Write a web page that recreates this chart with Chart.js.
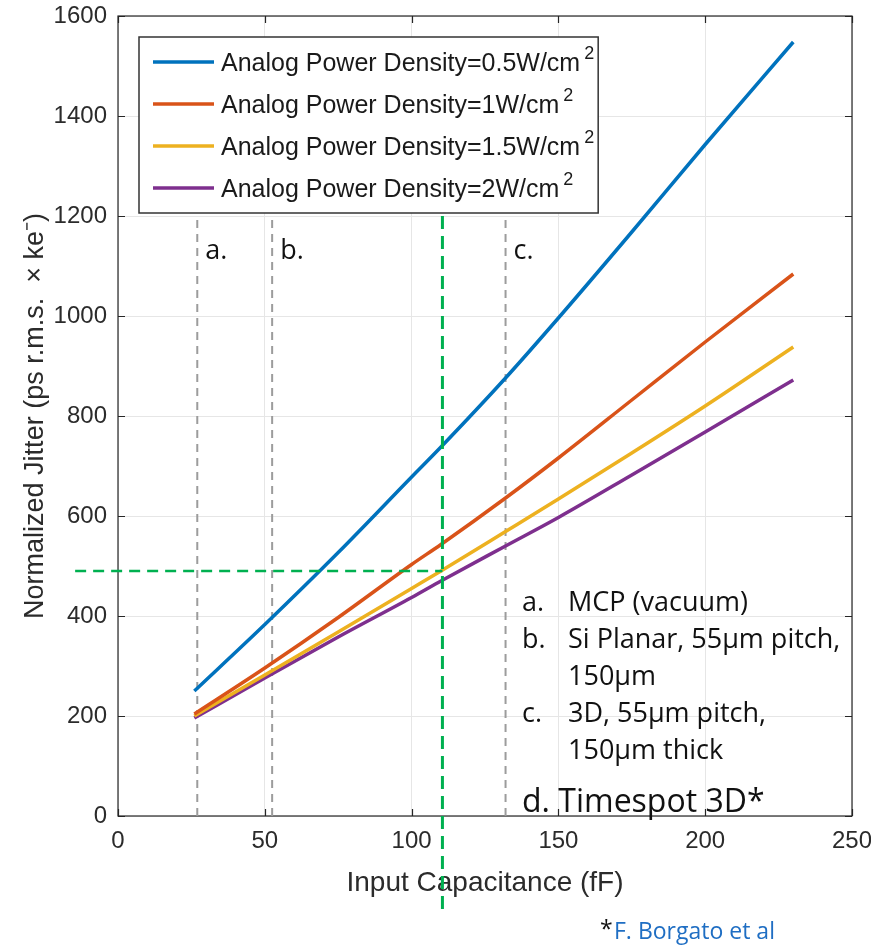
<!DOCTYPE html>
<html>
<head>
<meta charset="utf-8">
<script src="https://cdn.jsdelivr.net/npm/chart.js@4.4.0/dist/chart.umd.min.js"></script>
<style>
  html, body { margin: 0; padding: 0; background: #fff; }
  #wrap { position: relative; width: 871px; height: 946px; }
</style>
</head>
<body>
<div id="wrap"><canvas id="jitterChart"></canvas></div>
<script>
// values
const capacitance = [26, 50, 75, 100, 110, 132, 150, 175, 200, 230];
const jitter05 = [250, 383, 527, 678, 738, 876, 996, 1168, 1343, 1548];
const jitter1 = [204, 296, 397, 503, 543, 636, 716, 832, 948, 1084];
const jitter15 = [200, 282, 368, 455, 490, 569, 634, 726, 820, 938];
const jitter2 = [196, 276, 358, 437, 470, 540, 597, 682, 768, 872];
const densities = ["0.5", "1", "1.5", "2"];
const lineColors = ["#0072BD", "#D95319", "#EDB120", "#7E2F8E"];

const markerX = [27, 52.5, 132];
const markerText = ["a.", "b.", "c."];
const markerTop = 1195;
const timespotX = 110.5;
const timespotY = 490;

const xTicks = [0, 50, 100, 150, 200, 250];
const yTicks = [0, 200, 400, 600, 800, 1000, 1200, 1400, 1600];

const notes = [
  ["a.", "MCP (vacuum)"],
  ["b.", "Si Planar, 55\u03bcm pitch,"],
  ["", "150\u03bcm"],
  ["c.", "3D, 55\u03bcm pitch,"],
  ["", "150\u03bcm thick"]
];

const series = [jitter05, jitter1, jitter15, jitter2];
const datasets = series.map((vals, i) => ({
  label: "Analog Power Density=" + densities[i] + "W/cm\u00b2",
  data: capacitance.map((c, j) => ({ x: c, y: vals[j] })),
  borderColor: lineColors[i],
  borderWidth: 3.5,
  pointRadius: 0,
  cubicInterpolationMode: "monotone",
  order: 1
}));

// dashed gray markers a / b / c
markerX.forEach(x => {
  datasets.push({
    label: "marker",
    data: [{ x: x, y: 0 }, { x: x, y: markerTop }],
    borderColor: "#9c9c9c",
    borderWidth: 2,
    borderDash: [8, 6],
    pointRadius: 0,
    order: 3
  });
});

// green timespot cross, reaches past the axes
datasets.push({
  label: "timespot-v",
  data: [{ x: timespotX, y: 1200 }, { x: timespotX, y: -198 }],
  borderColor: "#00B050",
  borderWidth: 3,
  borderDash: [13, 7],
  pointRadius: 0,
  clip: false,
  order: 0
});
datasets.push({
  label: "timespot-h",
  data: [{ x: -14.6, y: timespotY }, { x: timespotX, y: timespotY }],
  borderColor: "#00B050",
  borderWidth: 2.5,
  borderDash: [11, 7],
  pointRadius: 0,
  clip: false,
  order: 0
});

const textFont = "'Open Sans', 'Noto Sans', sans-serif";
const axisFont = "'Liberation Sans', Arial, sans-serif";

const frame = {
  id: "frame",
  beforeDatasetsDraw(chart) {
    const { ctx, chartArea: a, scales } = chart;
    ctx.save();
    ctx.strokeStyle = "#262626";
    ctx.lineWidth = 1.2;
    const tl = 7;
    ctx.beginPath();
    xTicks.forEach(v => {
      const px = Math.round(scales.x.getPixelForValue(v)) + 0.5;
      ctx.moveTo(px, a.bottom); ctx.lineTo(px, a.bottom - tl);
      ctx.moveTo(px, a.top); ctx.lineTo(px, a.top + tl);
    });
    yTicks.forEach(v => {
      const py = Math.round(scales.y.getPixelForValue(v)) + 0.5;
      ctx.moveTo(a.left, py); ctx.lineTo(a.left + tl, py);
      ctx.moveTo(a.right, py); ctx.lineTo(a.right - tl, py);
    });
    ctx.stroke();
    ctx.strokeRect(a.left, a.top, a.right - a.left, a.bottom - a.top);
    ctx.restore();
  }
};

const notesPlugin = {
  id: "notes",
  afterDraw(chart) {
    const { ctx, chartArea: a, scales } = chart;
    ctx.save();

    // legend box
    const lx = a.left + 21, ly = a.top + 21;
    ctx.font = "25px " + axisFont;
    let maxW = 0;
    densities.forEach(d => {
      maxW = Math.max(maxW, ctx.measureText("Analog Power Density=" + d + "W/cm").width);
    });
    const boxW = 82 + maxW + 18, boxH = 176;
    ctx.fillStyle = "#fff";
    ctx.fillRect(lx, ly, boxW, boxH);
    ctx.strokeStyle = "#333";
    ctx.lineWidth = 1.5;
    ctx.strokeRect(lx, ly, boxW, boxH);
    densities.forEach((d, i) => {
      const cy = ly + 25 + i * 42;
      ctx.strokeStyle = lineColors[i];
      ctx.lineWidth = 3.5;
      ctx.beginPath();
      ctx.moveTo(lx + 14, cy);
      ctx.lineTo(lx + 75, cy);
      ctx.stroke();
      const t = "Analog Power Density=" + d + "W/cm";
      ctx.font = "25px " + axisFont;
      ctx.fillStyle = "#1a1a1a";
      ctx.textBaseline = "middle";
      ctx.textAlign = "left";
      ctx.fillText(t, lx + 82, cy + 2);
      const w = ctx.measureText(t).width;
      ctx.font = "18px " + axisFont;
      ctx.fillText("2", lx + 82 + w + 4, cy - 8);
    });

    // a. b. c. labels
    ctx.fillStyle = "#111";
    ctx.font = "27px " + textFont;
    ctx.textBaseline = "middle";
    markerX.forEach((x, i) => {
      ctx.fillText(markerText[i], scales.x.getPixelForValue(x) + 8, scales.y.getPixelForValue(1130));
    });

    // notes
    const nx = a.left + 404;
    notes.forEach((n, i) => {
      const cy = a.top + 587 + i * 37.2;
      ctx.font = "27px " + textFont;
      if (n[0]) ctx.fillText(n[0], nx, cy);
      ctx.fillText(n[1], nx + 46, cy);
    });
    ctx.font = "32px " + textFont;
    ctx.fillText("d. Timespot 3D*", nx, a.top + 787);

    // citation
    ctx.font = "23px " + textFont;
    ctx.fillStyle = "#111";
    ctx.fillText("*", 600, 930);
    ctx.fillStyle = "#1F6EC3";
    ctx.fillText("F. Borgato et al", 614, 932);
    ctx.restore();
  }
};

new Chart(document.getElementById("jitterChart"), {
  type: "line",
  data: { datasets: datasets },
  options: {
    responsive: true,
    maintainAspectRatio: false,
    animation: false,
    layout: { padding: { left: 0, top: 16, right: 19, bottom: 0 } },
    plugins: { legend: { display: false }, tooltip: { enabled: false } },
    scales: {
      x: {
        type: "linear",
        min: 0,
        max: 250,
        afterBuildTicks: s => { s.ticks = xTicks.map(v => ({ value: v })); },
        afterFit: s => { s.height = 130; s.paddingLeft = 0; s.paddingRight = 0; },
        grid: { color: "#e6e6e6", drawTicks: false },
        border: { display: false },
        ticks: {
          padding: 11,
          color: "#2b2b2b",
          font: { size: 24, family: axisFont },
          callback: v => String(v)
        },
        title: {
          display: true,
          text: "Input Capacitance (fF)",
          color: "#2b2b2b",
          font: { size: 28, family: axisFont },
          padding: { top: 0, bottom: 46 }
        }
      },
      y: {
        min: 0,
        max: 1600,
        afterBuildTicks: s => { s.ticks = yTicks.map(v => ({ value: v })); },
        afterFit: s => { s.width = 118; s.paddingTop = 0; s.paddingBottom = 0; },
        grid: { color: "#e6e6e6", drawTicks: false },
        border: { display: false },
        ticks: {
          padding: 11,
          color: "#2b2b2b",
          font: { size: 24, family: axisFont },
          callback: v => String(v)
        },
        title: {
          display: true,
          text: "Normalized Jitter (ps r.m.s.  \u00d7 ke\u207b)",
          color: "#2b2b2b",
          font: { size: 27, family: axisFont },
          padding: { top: 19, bottom: 0 }
        }
      }
    }
  },
  plugins: [frame, notesPlugin]
});
</script>
</body>
</html>
